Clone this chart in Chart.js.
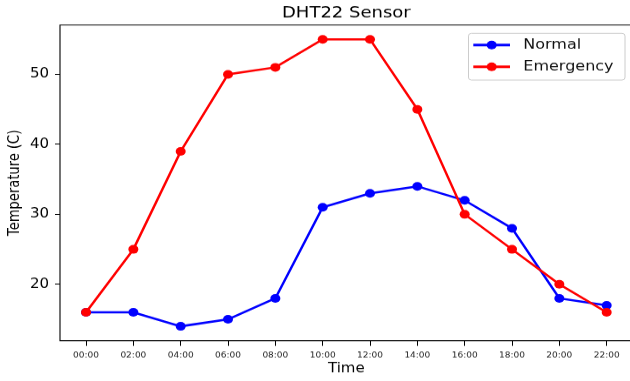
<!DOCTYPE html>
<html>
<head>
<meta charset="utf-8">
<script src="https://cdn.jsdelivr.net/npm/chart.js@4/dist/chart.umd.min.js"></script>
<style>
  html, body { margin: 0; padding: 0; overflow: hidden; background: #fff; width: 630px; height: 381px; }
  #wrap { position: absolute; left: 0; top: 0; width: 630px; height: 381px; overflow: hidden; }
  #c { position: absolute; left: 0; top: 0; transform: scaleY(0.8699); transform-origin: 0 0; }
</style>
</head>
<body>
<div id="wrap"><canvas id="c" width="660" height="438"></canvas></div>
<script>
const timeLabels = ['00:00','02:00','04:00','06:00','08:00','10:00','12:00','14:00','16:00','18:00','20:00','22:00'];
const normalTemps = [16, 16, 14, 15, 18, 31, 33, 34, 32, 28, 18, 17];
const emergencyTemps = [16, 25, 39, 50, 51, 55, 55, 45, 30, 25, 20, 16];
const yTickValues = [20, 30, 40, 50];
const seriesNames = ['Normal', 'Emergency'];
const seriesColors = ['#0000ff', '#ff0000'];

const FONT = "'DejaVu Sans', sans-serif";

const toPoints = arr => arr.map((v, i) => ({ x: i, y: v }));

const framePlugin = {
  id: 'frame',
  afterLayout(chart) {
    // center the title over the plot area, as matplotlib does
    if (chart.titleBlock) {
      chart.titleBlock.left = chart.chartArea.left;
      chart.titleBlock.right = chart.chartArea.right;
      chart.titleBlock.width = chart.chartArea.right - chart.chartArea.left;
    }
  },
  afterDraw(chart) {
    const ctx = chart.ctx, a = chart.chartArea;
    ctx.save();
    ctx.strokeStyle = '#000';
    ctx.lineWidth = 1.1;
    ctx.beginPath();
    ctx.moveTo(a.right, a.top);
    ctx.lineTo(a.left, a.top);
    ctx.lineTo(a.left, a.bottom);
    ctx.lineTo(a.right, a.bottom);
    ctx.stroke();
    // legend
    const bx = 468.5, by = 38.3, bw = 156.5, bh = 53.7, r = 3;
    ctx.beginPath();
    ctx.moveTo(bx + r, by);
    ctx.lineTo(bx + bw - r, by);
    ctx.quadraticCurveTo(bx + bw, by, bx + bw, by + r);
    ctx.lineTo(bx + bw, by + bh - r);
    ctx.quadraticCurveTo(bx + bw, by + bh, bx + bw - r, by + bh);
    ctx.lineTo(bx + r, by + bh);
    ctx.quadraticCurveTo(bx, by + bh, bx, by + bh - r);
    ctx.lineTo(bx, by + r);
    ctx.quadraticCurveTo(bx, by, bx + r, by);
    ctx.closePath();
    ctx.fillStyle = 'rgba(255,255,255,0.8)';
    ctx.fill();
    ctx.strokeStyle = '#cccccc';
    ctx.lineWidth = 1;
    ctx.stroke();
    const rows = [51.7, 76.7];
    chart.data.datasets.forEach((ds, i) => {
      const y = rows[i];
      ctx.strokeStyle = ds.borderColor;
      ctx.lineWidth = 3;
      ctx.beginPath();
      ctx.moveTo(473.3, y);
      ctx.lineTo(510, y);
      ctx.stroke();
      ctx.fillStyle = ds.borderColor;
      ctx.beginPath();
      ctx.arc(491.7, y, 5, 0, Math.PI * 2);
      ctx.fill();
      ctx.fillStyle = '#111';
      ctx.font = '16px ' + FONT;
      ctx.textBaseline = 'middle';
      ctx.textAlign = 'left';
      ctx.fillText(ds.label, 523.3, y);
    });
    ctx.restore();
  }
};

new Chart(document.getElementById('c'), {
  type: 'line',
  data: {
    datasets: [
      {
        label: seriesNames[0], data: toPoints(normalTemps),
        borderColor: seriesColors[0], backgroundColor: seriesColors[0],
        pointBackgroundColor: seriesColors[0], pointBorderColor: seriesColors[0],
        borderWidth: 2.5, pointRadius: 5, pointBorderWidth: 0, tension: 0, order: 1
      },
      {
        label: seriesNames[1], data: toPoints(emergencyTemps),
        borderColor: seriesColors[1], backgroundColor: seriesColors[1],
        pointBackgroundColor: seriesColors[1], pointBorderColor: seriesColors[1],
        borderWidth: 2.5, pointRadius: 5, pointBorderWidth: 0, tension: 0, order: 0
      }
    ]
  },
  options: {
    responsive: false,
    animation: false,
    devicePixelRatio: 1,
    layout: { padding: { left: 0, right: 27.3, top: 0, bottom: 0 } },
    plugins: {
      legend: { display: false },
      tooltip: { enabled: false },
      title: {
        display: true, text: 'DHT22 Sensor', color: '#000',
        font: { family: FONT, size: 18, weight: 'normal', lineHeight: 1.2 },
        padding: { top: 4.7, bottom: 2.4 }
      }
    },
    scales: {
      x: {
        type: 'linear', min: -0.55, max: 11.55,
        afterBuildTicks: s => { s.ticks = timeLabels.map((_, i) => ({ value: i })); },
        afterFit: s => { s.height = 46.4; },
        border: { display: false },
        grid: { display: true, drawOnChartArea: false, drawTicks: true, tickLength: 6, color: '#000', lineWidth: 1 },
        ticks: {
          autoSkip: false, maxRotation: 0, minRotation: 0, padding: 6,
          color: '#222', font: { family: FONT, size: 9 },
          callback: v => timeLabels[v]
        },
        title: {
          display: true, text: 'Time', color: '#000',
          font: { family: FONT, size: 15, lineHeight: 1.2 },
          padding: { top: 0, bottom: 5 }
        }
      },
      y: {
        type: 'linear', min: 11.95, max: 57.05,
        afterBuildTicks: s => { s.ticks = yTickValues.map(v => ({ value: v })); },
        afterFit: s => { s.width = 60; },
        border: { display: false },
        grid: { display: true, drawOnChartArea: false, drawTicks: true, tickLength: 5, color: '#000', lineWidth: 1 },
        ticks: { padding: 6, color: '#000', font: { family: FONT, size: 15 } },
        title: {
          display: true, text: 'Temperature (C)', color: '#000',
          font: { family: FONT, size: 15, lineHeight: 1.2 },
          padding: { top: 6, bottom: 0 }
        }
      }
    }
  },
  plugins: [framePlugin]
});
</script>
</body>
</html>
